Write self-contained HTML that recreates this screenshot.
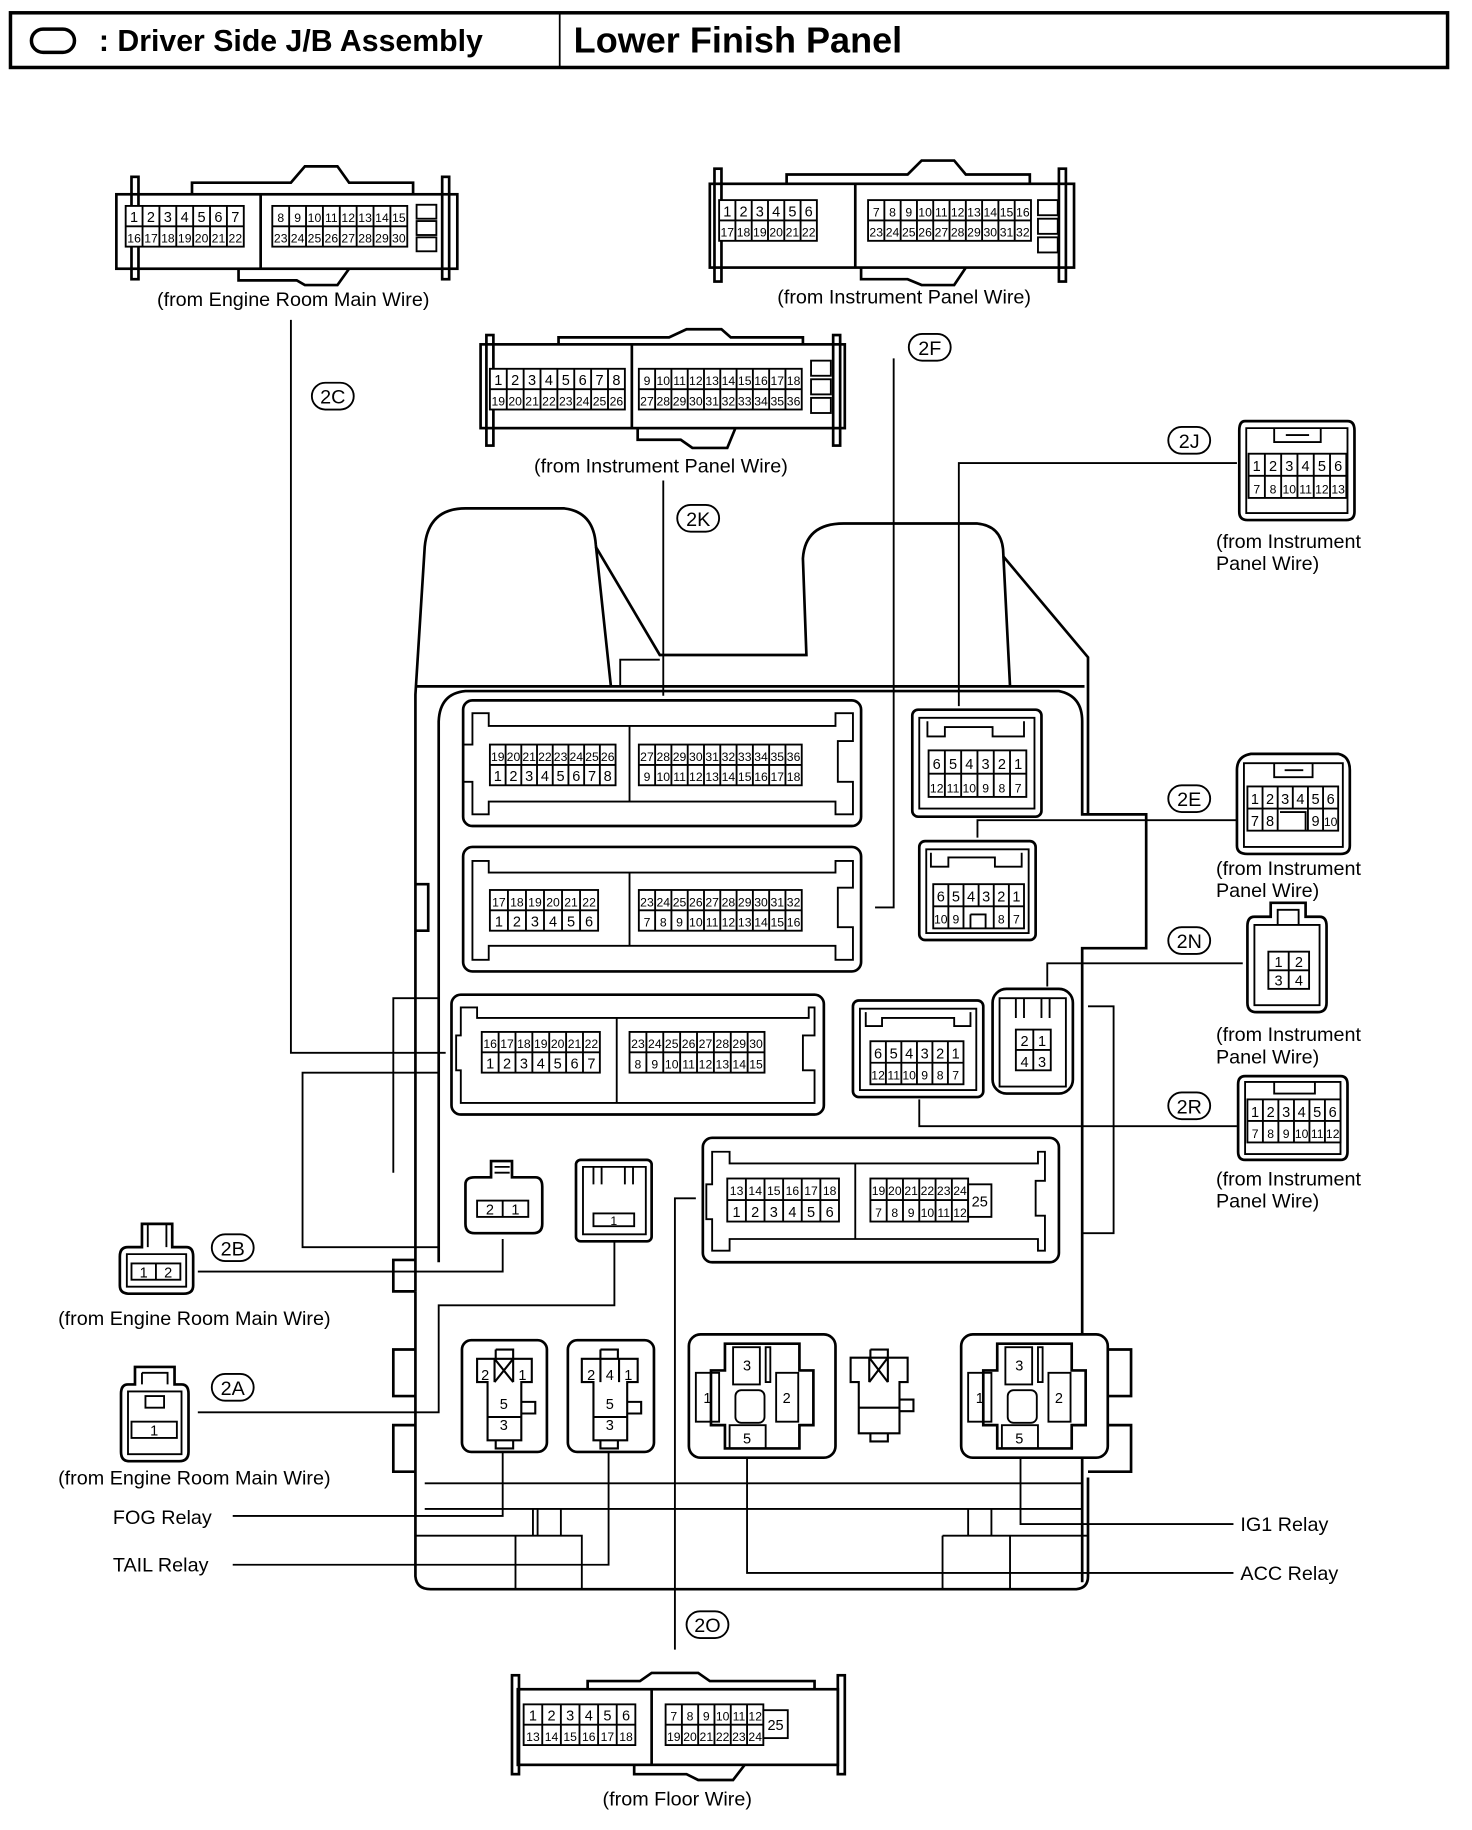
<!DOCTYPE html>
<html><head><meta charset="utf-8"><style>
html,body{margin:0;padding:0;background:#fff}
svg{display:block}
text{font-family:"Liberation Sans",sans-serif;fill:#000}
.p{font-size:12.5px;text-anchor:middle}
.s{font-size:10.5px;text-anchor:middle}
.l{font-size:17px}
.c{font-size:17px;text-anchor:middle}
.g{fill:#fff;stroke:#000;stroke-width:1.6}
.o{fill:none;stroke:#000;stroke-width:2.3}
.t{fill:none;stroke:#000;stroke-width:1.6}
.w{fill:#fff;stroke:#000;stroke-width:2.3}
</style></head><body>
<svg width="1472" height="1830" viewBox="0 0 1265 1573" preserveAspectRatio="none" xmlns="http://www.w3.org/2000/svg">
<!-- header -->
<rect x="9" y="11" width="1235" height="47" fill="none" stroke="#000" stroke-width="3"/>
<line x1="481" y1="11" x2="481" y2="58" stroke="#000" stroke-width="1.5"/>
<rect x="27" y="25" width="37" height="20" rx="10" fill="none" stroke="#000" stroke-width="3"/>
<text x="85" y="44" style="font-size:26px;font-weight:bold">: Driver Side J/B Assembly</text>
<text x="493" y="45" style="font-size:31px;font-weight:bold">Lower Finish Panel</text>

<!-- J/B body -->
<g class="o">
<path d="M357,1110 L357,597 L365,470 Q368,437 400,437 L485,437 Q510,440 512,468 L525,590"/>
<path d="M512,470 L567,563 L693,563 L690,480 Q692,450 725,450 L840,450 Q860,452 862,472 L868,590"/>
<path d="M862,478 L935,565 L935,700"/>
<path d="M357,590 L932,590"/>
<path d="M377,1085 L377,620 Q378,596 400,594 L910,594 Q930,598 930,620 L930,700 L985,700 L985,815 L930,815 L930,1360"/>
<path d="M357,1110 L357,1355 Q358,1366 370,1366 L925,1366 Q935,1365 935,1355 L935,1270"/>
<path d="M357,1083 L338,1083 L338,1110 L357,1110 M357,1160 L338,1160 L338,1200 L357,1200 M357,1225 L338,1225 L338,1265 L357,1265"/>
<path d="M935,1160 L972,1160 L972,1200 L935,1200 M935,1225 L972,1225 L972,1265 L935,1265"/>
<path d="M357,760 L368,760 L368,800 L357,800"/>
</g>
<g class="t">
<path d="M533,590 L533,567 L567,567"/>
<path d="M377,858 L338,858 L338,1008"/>
<path d="M377,922 L260,922 L260,1072 L377,1072"/>
<path d="M935,865 L957,865 L957,1060 L930,1060"/>
<path d="M365,1275 L930,1275 M365,1297 L930,1297"/>
<path d="M357,1320 L500,1320 L500,1366 M443,1320 L443,1366 M462,1297 L462,1320 M482,1297 L482,1320 M458,1297 L458,1320"/>
<path d="M810,1320 L935,1320 M810,1320 L810,1366 M868,1320 L868,1366 M832,1297 L832,1320 M852,1297 L852,1320"/>
</g>

<!-- leader lines -->
<g class="t">
<path d="M250,275 V905 H383"/>
<path d="M768,308 V780 H752"/>
<path d="M570,413 V598"/>
<path d="M1063,398 H824 V607"/>
<path d="M1063,705 H840 V720"/>
<path d="M1068,828 H900 V848"/>
<path d="M1063,968 H790 V945"/>
<path d="M170,1093 H432 V1065"/>
<path d="M170,1214 H377 V1122 H528 V1068"/>
<path d="M580,1418 V1030 H598"/>
<path d="M200,1303 H432 V1248"/>
<path d="M200,1345 H523 V1248"/>
<path d="M1060,1310 H877 V1253"/>
<path d="M1060,1352 H642 V1253"/>
</g>

<!-- circled labels -->
<g>
<rect x="268" y="329" width="36" height="23" rx="11.5" class="w" style="stroke-width:1.6"/><text x="286" y="347" class="c">2C</text>
<rect x="781" y="287" width="36" height="23" rx="11.5" class="w" style="stroke-width:1.6"/><text x="799" y="305" class="c">2F</text>
<rect x="582" y="434" width="36" height="23" rx="11.5" class="w" style="stroke-width:1.6"/><text x="600" y="452" class="c">2K</text>
<rect x="1004" y="367" width="36" height="23" rx="11.5" class="w" style="stroke-width:1.6"/><text x="1022" y="385" class="c">2J</text>
<rect x="1004" y="675" width="36" height="23" rx="11.5" class="w" style="stroke-width:1.6"/><text x="1022" y="693" class="c">2E</text>
<rect x="1004" y="797" width="36" height="23" rx="11.5" class="w" style="stroke-width:1.6"/><text x="1022" y="815" class="c">2N</text>
<rect x="1004" y="939" width="36" height="23" rx="11.5" class="w" style="stroke-width:1.6"/><text x="1022" y="957" class="c">2R</text>
<rect x="182" y="1061" width="36" height="23" rx="11.5" class="w" style="stroke-width:1.6"/><text x="200" y="1079" class="c">2B</text>
<rect x="182" y="1181" width="36" height="23" rx="11.5" class="w" style="stroke-width:1.6"/><text x="200" y="1199" class="c">2A</text>
<rect x="590" y="1385" width="36" height="23" rx="11.5" class="w" style="stroke-width:1.6"/><text x="608" y="1403" class="c">2O</text>
</g>

<!-- ===== 2C external ===== -->
<g class="o">
<rect x="100" y="167" width="293" height="64"/>
<rect x="113" y="152" width="6" height="88"/><rect x="380" y="152" width="6" height="88"/>
<path d="M165,167 V157 H250 L262,143 H290 L300,157 H355 V167"/>
<path d="M205,231 V241 H255 L262,245 H290 L300,231"/>
<path d="M224,167 V231"/>
</g>
<g class="t"><rect x="358" y="176" width="17" height="12"/><rect x="358" y="190" width="17" height="12"/><rect x="358" y="204" width="17" height="12"/></g>
<rect x="108" y="177" width="101.5" height="35" class="g"/>
<path d="M108,194.5 H209.5 M122.5,177V212 M137,177V212 M151.5,177V212 M166,177V212 M180.5,177V212 M195,177V212" class="t"/>
<text y="191" class="p"><tspan x="115.25">1</tspan><tspan x="129.75">2</tspan><tspan x="144.25">3</tspan><tspan x="158.75">4</tspan><tspan x="173.25">5</tspan><tspan x="187.75">6</tspan><tspan x="202.25">7</tspan></text>
<text y="208.5" class="s"><tspan x="115.25">16</tspan><tspan x="129.75">17</tspan><tspan x="144.25">18</tspan><tspan x="158.75">19</tspan><tspan x="173.25">20</tspan><tspan x="187.75">21</tspan><tspan x="202.25">22</tspan></text>
<rect x="234" y="177" width="116" height="35" class="g"/>
<path d="M234,194.5 H350 M248.5,177V212 M263,177V212 M277.5,177V212 M292,177V212 M306.5,177V212 M321,177V212 M335.5,177V212" class="t"/>
<text y="191" class="s"><tspan x="241.25">8</tspan><tspan x="255.75">9</tspan><tspan x="270.25">10</tspan><tspan x="284.75">11</tspan><tspan x="299.25">12</tspan><tspan x="313.75">13</tspan><tspan x="328.25">14</tspan><tspan x="342.75">15</tspan></text>
<text y="208.5" class="s"><tspan x="241.25">23</tspan><tspan x="255.75">24</tspan><tspan x="270.25">25</tspan><tspan x="284.75">26</tspan><tspan x="299.25">27</tspan><tspan x="313.75">28</tspan><tspan x="328.25">29</tspan><tspan x="342.75">30</tspan></text>
<text x="252" y="263" class="c">(from Engine Room Main Wire)</text>

<!-- ===== 2F external ===== -->
<g class="o">
<rect x="610" y="158" width="313" height="72"/>
<rect x="614" y="145" width="6" height="97"/><rect x="910" y="145" width="6" height="97"/>
<path d="M676,158 V150 H780 L792,138 H820 L830,150 H885 V158"/>
<path d="M740,230 V240 H780 L792,245 H820 L830,230"/>
<path d="M735,158 V230"/>
</g>
<g class="t"><rect x="892" y="172" width="17" height="13"/><rect x="892" y="188" width="17" height="13"/><rect x="892" y="204" width="17" height="13"/></g>
<rect x="618" y="172" width="84" height="35" class="g"/>
<path d="M618,189.5 H702 M632,172V207 M646,172V207 M660,172V207 M674,172V207 M688,172V207" class="t"/>
<text y="186" class="p"><tspan x="625">1</tspan><tspan x="639">2</tspan><tspan x="653">3</tspan><tspan x="667">4</tspan><tspan x="681">5</tspan><tspan x="695">6</tspan></text>
<text y="203.5" class="s"><tspan x="625">17</tspan><tspan x="639">18</tspan><tspan x="653">19</tspan><tspan x="667">20</tspan><tspan x="681">21</tspan><tspan x="695">22</tspan></text>
<rect x="746" y="172" width="140" height="35" class="g"/>
<path d="M746,189.5 H886 M760,172V207 M774,172V207 M788,172V207 M802,172V207 M816,172V207 M830,172V207 M844,172V207 M858,172V207 M872,172V207" class="t"/>
<text y="186" class="s"><tspan x="753">7</tspan><tspan x="767">8</tspan><tspan x="781">9</tspan><tspan x="795">10</tspan><tspan x="809">11</tspan><tspan x="823">12</tspan><tspan x="837">13</tspan><tspan x="851">14</tspan><tspan x="865">15</tspan><tspan x="879">16</tspan></text>
<text y="203.5" class="s"><tspan x="753">23</tspan><tspan x="767">24</tspan><tspan x="781">25</tspan><tspan x="795">26</tspan><tspan x="809">27</tspan><tspan x="823">28</tspan><tspan x="837">29</tspan><tspan x="851">30</tspan><tspan x="865">31</tspan><tspan x="879">32</tspan></text>
<text x="777" y="261" class="c">(from Instrument Panel Wire)</text>

<!-- ===== 2K external ===== -->
<g class="o">
<rect x="413" y="296" width="313" height="72"/>
<rect x="418" y="288" width="6" height="95"/><rect x="716" y="288" width="6" height="95"/>
<path d="M480,296 V290 H575 L590,283 H620 L628,290 H690 V296"/>
<path d="M548,368 V378 H585 L595,385 H625 L632,368"/>
<path d="M543,296 V368"/>
</g>
<g class="t"><rect x="697" y="310" width="17" height="13"/><rect x="697" y="326" width="17" height="13"/><rect x="697" y="342" width="17" height="13"/></g>
<rect x="421" y="317" width="116" height="35" class="g"/>
<path d="M421,334.5 H537 M435.5,317V352 M450,317V352 M464.5,317V352 M479,317V352 M493.5,317V352 M508,317V352 M522.5,317V352" class="t"/>
<text y="331" class="p"><tspan x="428.25">1</tspan><tspan x="442.75">2</tspan><tspan x="457.25">3</tspan><tspan x="471.75">4</tspan><tspan x="486.25">5</tspan><tspan x="500.75">6</tspan><tspan x="515.25">7</tspan><tspan x="529.75">8</tspan></text>
<text y="348.5" class="s"><tspan x="428.25">19</tspan><tspan x="442.75">20</tspan><tspan x="457.25">21</tspan><tspan x="471.75">22</tspan><tspan x="486.25">23</tspan><tspan x="500.75">24</tspan><tspan x="515.25">25</tspan><tspan x="529.75">26</tspan></text>
<rect x="549" y="317" width="140" height="35" class="g"/>
<path d="M549,334.5 H689 M563,317V352 M577,317V352 M591,317V352 M605,317V352 M619,317V352 M633,317V352 M647,317V352 M661,317V352 M675,317V352" class="t"/>
<text y="331" class="s"><tspan x="556">9</tspan><tspan x="570">10</tspan><tspan x="584">11</tspan><tspan x="598">12</tspan><tspan x="612">13</tspan><tspan x="626">14</tspan><tspan x="640">15</tspan><tspan x="654">16</tspan><tspan x="668">17</tspan><tspan x="682">18</tspan></text>
<text y="348.5" class="s"><tspan x="556">27</tspan><tspan x="570">28</tspan><tspan x="584">29</tspan><tspan x="598">30</tspan><tspan x="612">31</tspan><tspan x="626">32</tspan><tspan x="640">33</tspan><tspan x="654">34</tspan><tspan x="668">35</tspan><tspan x="682">36</tspan></text>
<text x="568" y="406" class="c">(from Instrument Panel Wire)</text>

<!-- ===== K1 (2K in J/B) ===== -->
<rect x="398" y="602" width="342" height="108" rx="8" class="w"/>
<path d="M406,613 H420 V624 H718 V613 H733 V637 H720 V672 H733 V700 H718 V689 H420 V700 H406 V672 H398 V640 H406 Z M541,624 V689" class="t"/>
<rect x="421" y="640" width="108" height="35" class="g"/>
<path d="M421,657.5 H529 M434.5,640V675 M448,640V675 M461.5,640V675 M475,640V675 M488.5,640V675 M502,640V675 M515.5,640V675" class="t"/>
<text y="654" class="s"><tspan x="427.75">19</tspan><tspan x="441.25">20</tspan><tspan x="454.75">21</tspan><tspan x="468.25">22</tspan><tspan x="481.75">23</tspan><tspan x="495.25">24</tspan><tspan x="508.75">25</tspan><tspan x="522.25">26</tspan></text>
<text y="671.5" class="p"><tspan x="427.75">1</tspan><tspan x="441.25">2</tspan><tspan x="454.75">3</tspan><tspan x="468.25">4</tspan><tspan x="481.75">5</tspan><tspan x="495.25">6</tspan><tspan x="508.75">7</tspan><tspan x="522.25">8</tspan></text>
<rect x="549" y="640" width="140" height="35" class="g"/>
<path d="M549,657.5 H689 M563,640V675 M577,640V675 M591,640V675 M605,640V675 M619,640V675 M633,640V675 M647,640V675 M661,640V675 M675,640V675" class="t"/>
<text y="654" class="s"><tspan x="556">27</tspan><tspan x="570">28</tspan><tspan x="584">29</tspan><tspan x="598">30</tspan><tspan x="612">31</tspan><tspan x="626">32</tspan><tspan x="640">33</tspan><tspan x="654">34</tspan><tspan x="668">35</tspan><tspan x="682">36</tspan></text>
<text y="671.5" class="s"><tspan x="556">9</tspan><tspan x="570">10</tspan><tspan x="584">11</tspan><tspan x="598">12</tspan><tspan x="612">13</tspan><tspan x="626">14</tspan><tspan x="640">15</tspan><tspan x="654">16</tspan><tspan x="668">17</tspan><tspan x="682">18</tspan></text>

<!-- ===== K2 (2F in J/B) ===== -->
<rect x="398" y="728" width="342" height="107" rx="8" class="w"/>
<path d="M406,740 H420 V750 H718 V740 H733 V763 H720 V797 H733 V825 H718 V813 H420 V825 H406 Z M541,750 V813" class="t"/>
<rect x="421" y="765" width="93" height="35" class="g"/>
<path d="M421,782.5 H514 M436.5,765V800 M452,765V800 M467.5,765V800 M483,765V800 M498.5,765V800" class="t"/>
<text y="779" class="s"><tspan x="428.75">17</tspan><tspan x="444.25">18</tspan><tspan x="459.75">19</tspan><tspan x="475.25">20</tspan><tspan x="490.75">21</tspan><tspan x="506.25">22</tspan></text>
<text y="796.5" class="p"><tspan x="428.75">1</tspan><tspan x="444.25">2</tspan><tspan x="459.75">3</tspan><tspan x="475.25">4</tspan><tspan x="490.75">5</tspan><tspan x="506.25">6</tspan></text>
<rect x="549" y="765" width="140" height="35" class="g"/>
<path d="M549,782.5 H689 M563,765V800 M577,765V800 M591,765V800 M605,765V800 M619,765V800 M633,765V800 M647,765V800 M661,765V800 M675,765V800" class="t"/>
<text y="779" class="s"><tspan x="556">23</tspan><tspan x="570">24</tspan><tspan x="584">25</tspan><tspan x="598">26</tspan><tspan x="612">27</tspan><tspan x="626">28</tspan><tspan x="640">29</tspan><tspan x="654">30</tspan><tspan x="668">31</tspan><tspan x="682">32</tspan></text>
<text y="796.5" class="s"><tspan x="556">7</tspan><tspan x="570">8</tspan><tspan x="584">9</tspan><tspan x="598">10</tspan><tspan x="612">11</tspan><tspan x="626">12</tspan><tspan x="640">13</tspan><tspan x="654">14</tspan><tspan x="668">15</tspan><tspan x="682">16</tspan></text>

<!-- ===== K3 (2C in J/B) ===== -->
<rect x="388" y="855" width="320" height="103" rx="8" class="w"/>
<path d="M396,866 H410 V875 H695 V866 H700 V890 H690 V920 H700 V948 H396 V920 H392 V890 H396 Z M530,875 V948" class="t"/>
<rect x="414" y="887" width="101.5" height="35" class="g"/>
<path d="M414,904.5 H515.5 M428.5,887V922 M443,887V922 M457.5,887V922 M472,887V922 M486.5,887V922 M501,887V922" class="t"/>
<text y="901" class="s"><tspan x="421.25">16</tspan><tspan x="435.75">17</tspan><tspan x="450.25">18</tspan><tspan x="464.75">19</tspan><tspan x="479.25">20</tspan><tspan x="493.75">21</tspan><tspan x="508.25">22</tspan></text>
<text y="918.5" class="p"><tspan x="421.25">1</tspan><tspan x="435.75">2</tspan><tspan x="450.25">3</tspan><tspan x="464.75">4</tspan><tspan x="479.25">5</tspan><tspan x="493.75">6</tspan><tspan x="508.25">7</tspan></text>
<rect x="541" y="887" width="116" height="35" class="g"/>
<path d="M541,904.5 H657 M555.5,887V922 M570,887V922 M584.5,887V922 M599,887V922 M613.5,887V922 M628,887V922 M642.5,887V922" class="t"/>
<text y="901" class="s"><tspan x="548.25">23</tspan><tspan x="562.75">24</tspan><tspan x="577.25">25</tspan><tspan x="591.75">26</tspan><tspan x="606.25">27</tspan><tspan x="620.75">28</tspan><tspan x="635.25">29</tspan><tspan x="649.75">30</tspan></text>
<text y="918.5" class="s"><tspan x="548.25">8</tspan><tspan x="562.75">9</tspan><tspan x="577.25">10</tspan><tspan x="591.75">11</tspan><tspan x="606.25">12</tspan><tspan x="620.75">13</tspan><tspan x="635.25">14</tspan><tspan x="649.75">15</tspan></text>

<!-- ===== K4 (2J) ===== -->
<rect x="784" y="610" width="111" height="92" rx="5" class="w"/>
<path d="M790,617 H889 V695 H790 Z M797,620 V633 H812 V625 H853 V633 H880 V620" class="t"/>
<rect x="798" y="645" width="84" height="40" class="g"/>
<path d="M798,665 H882 M812,645V685 M826,645V685 M840,645V685 M854,645V685 M868,645V685" class="t"/>
<text y="661" class="p"><tspan x="805">6</tspan><tspan x="819">5</tspan><tspan x="833">4</tspan><tspan x="847">3</tspan><tspan x="861">2</tspan><tspan x="875">1</tspan></text>
<text y="681" class="s"><tspan x="805">12</tspan><tspan x="819">11</tspan><tspan x="833">10</tspan><tspan x="847">9</tspan><tspan x="861">8</tspan><tspan x="875">7</tspan></text>

<!-- ===== K5 (2E) ===== -->
<rect x="790" y="723" width="100" height="85" rx="5" class="w"/>
<path d="M796,730 H884 V802 H796 Z M800,733 V745 H815 V737 H855 V745 H878 V733" class="t"/>
<rect x="802" y="760" width="78" height="38" class="g"/>
<path d="M802,779 H880 M815,760V798 M828,760V798 M841,760V779 M854,760V798 M867,760V798 M834,786 H847 V798 M834,786 V798" class="t"/>
<text y="775" class="p"><tspan x="808.5">6</tspan><tspan x="821.5">5</tspan><tspan x="834.5">4</tspan><tspan x="847.5">3</tspan><tspan x="860.5">2</tspan><tspan x="873.5">1</tspan></text>
<text y="794" class="s"><tspan x="808.5">10</tspan><tspan x="821.5">9</tspan><tspan x="860.5">8</tspan><tspan x="873.5">7</tspan></text>

<!-- ===== K6 (2R) ===== -->
<rect x="733" y="860" width="112" height="83" rx="5" class="w"/>
<path d="M739,867 H839 V937 H739 Z M744,870 V882 H758 V875 H820 V882 H834 V870" class="t"/>
<rect x="748" y="895" width="80" height="37" class="g"/>
<path d="M748,913.5 H828 M761.3,895V932 M774.6,895V932 M788,895V932 M801.3,895V932 M814.6,895V932" class="t"/>
<text y="910" class="p"><tspan x="754.6">6</tspan><tspan x="768">5</tspan><tspan x="781.3">4</tspan><tspan x="794.6">3</tspan><tspan x="808">2</tspan><tspan x="821.3">1</tspan></text>
<text y="928" class="s"><tspan x="754.6">12</tspan><tspan x="768">11</tspan><tspan x="781.3">10</tspan><tspan x="794.6">9</tspan><tspan x="808">8</tspan><tspan x="821.3">7</tspan></text>

<!-- ===== K7 (2N) ===== -->
<rect x="853" y="850" width="69" height="90" rx="12" class="w"/>
<path d="M859,858 H916 V934 H859 Z M873,858 V875 M880,858 V875 M895,858 V875 M902,858 V875" class="t"/>
<rect x="873" y="885" width="30" height="35" class="g"/>
<path d="M873,902.5 H903 M888,885V920" class="t"/>
<text y="899" class="p"><tspan x="880.5">2</tspan><tspan x="895.5">1</tspan></text>
<text y="917" class="p"><tspan x="880.5">4</tspan><tspan x="895.5">3</tspan></text>

<!-- ===== K8 (2B in J/B) ===== -->
<path d="M400,1018 Q400,1012 408,1012 H422 V998 H440 V1012 H460 Q466,1012 466,1020 V1052 Q466,1060 458,1060 H408 Q400,1060 400,1052 Z" class="w"/>
<path d="M425,1003 H438 M425,1008 H438" class="t"/>
<rect x="410" y="1032" width="44" height="14" class="g"/>
<path d="M432,1032V1046" class="t"/>
<text y="1044" class="p"><tspan x="421">2</tspan><tspan x="443">1</tspan></text>

<!-- ===== K9 (2A in J/B) ===== -->
<rect x="495" y="997" width="65" height="70" rx="4" class="w"/>
<path d="M501,1003 H555 V1061 H501 Z M510,1003 V1018 M517,1003 V1018 M537,1003 V1018 M544,1003 V1018" class="t"/>
<rect x="510" y="1043" width="35" height="11" class="g"/>
<text x="527.5" y="1053" class="s">1</text>

<!-- ===== K10 (2O in J/B) ===== -->
<rect x="604" y="978" width="306" height="107" rx="8" class="w"/>
<path d="M612,990 H627 V1000 H892 V990 H898 V1015 H890 V1045 H898 V1075 H892 V1065 H627 V1075 H612 V1048 H607 V1018 H612 Z M735,1000 V1065" class="t"/>
<rect x="625" y="1013" width="96" height="37" class="g"/>
<path d="M625,1031.5 H721 M641,1013V1050 M657,1013V1050 M673,1013V1050 M689,1013V1050 M705,1013V1050" class="t"/>
<text y="1027" class="s"><tspan x="633">13</tspan><tspan x="649">14</tspan><tspan x="665">15</tspan><tspan x="681">16</tspan><tspan x="697">17</tspan><tspan x="713">18</tspan></text>
<text y="1046" class="p"><tspan x="633">1</tspan><tspan x="649">2</tspan><tspan x="665">3</tspan><tspan x="681">4</tspan><tspan x="697">5</tspan><tspan x="713">6</tspan></text>
<rect x="748" y="1013" width="84" height="37" class="g"/>
<path d="M748,1031.5 H832 M762,1013V1050 M776,1013V1050 M790,1013V1050 M804,1013V1050 M818,1013V1050" class="t"/>
<rect x="832" y="1018" width="20" height="28" class="g"/>
<text x="842" y="1037" class="p">25</text>
<text y="1027" class="s"><tspan x="755">19</tspan><tspan x="769">20</tspan><tspan x="783">21</tspan><tspan x="797">22</tspan><tspan x="811">23</tspan><tspan x="825">24</tspan></text>
<text y="1046" class="s"><tspan x="755">7</tspan><tspan x="769">8</tspan><tspan x="783">9</tspan><tspan x="797">10</tspan><tspan x="811">11</tspan><tspan x="825">12</tspan></text>

<!-- ===== Relays ===== -->
<rect x="397" y="1152" width="73" height="96" rx="8" class="w"/>
<path d="M410,1168 H457 V1188 H448 V1238 H419 V1188 H410 Z M419,1218 H448 M448,1205 H460 V1215 H448 M426,1160 H441 V1168 M426,1160 V1168 M426,1238 V1245 H441 V1238 M425,1168 L441,1188 M441,1168 L425,1188 M425,1168 V1188 M441,1168 V1188" class="o" style="stroke-width:1.8"/>
<text y="1186" class="p"><tspan x="417">2</tspan><tspan x="449">1</tspan></text>
<text y="1211" class="p"><tspan x="433">5</tspan></text><text y="1229" class="p"><tspan x="433">3</tspan></text>
<rect x="488" y="1152" width="74" height="96" rx="8" class="w"/>
<path d="M500,1168 H548 V1188 H539 V1238 H510 V1188 H500 Z M510,1218 H539 M539,1205 H551 V1215 H539 M516,1160 H531 V1168 M516,1160 V1168 M516,1238 V1245 H531 V1238 M516,1168 V1188 M532,1168 V1188" class="o" style="stroke-width:1.8"/>
<text y="1186" class="p"><tspan x="508">2</tspan><tspan x="524">4</tspan><tspan x="540">1</tspan></text>
<text y="1211" class="p"><tspan x="524">5</tspan></text><text y="1229" class="p"><tspan x="524">3</tspan></text>
<rect x="592" y="1147" width="126" height="106" rx="10" class="w"/>
<path d="M623,1155 H687 V1178 H699 V1225 H687 V1245 H623 V1225 H611 V1178 H623 Z" class="o"/>
<path d="M630,1158 H653 V1190 H630 Z M598,1180 H618 V1222 H598 Z M667,1180 H686 V1222 H667 Z M627,1225 H658 V1245 H627 Z M658,1158 H662 V1188 H658 Z" class="o" style="stroke-width:1.6"/>
<rect x="632" y="1195" width="25" height="28" rx="5" class="t"/>
<text y="1178" class="p"><tspan x="642">3</tspan></text>
<text y="1206" class="p"><tspan x="608">1</tspan><tspan x="676">2</tspan></text>
<text y="1241" class="p"><tspan x="642">5</tspan></text>
<path d="M731,1167 H780 V1188 H773 V1232 H738 V1188 H731 Z M738,1210 H773 M773,1203 H785 V1213 H773 M748,1160 H763 V1167 M748,1160 V1167 M748,1232 V1239 H763 V1232 M747,1167 L763,1188 M763,1167 L747,1188 M747,1167 V1188 M763,1167 V1188" class="o" style="stroke-width:1.8"/>
<rect x="826" y="1147" width="126" height="106" rx="10" class="w"/>
<path d="M857,1155 H921 V1178 H933 V1225 H921 V1245 H857 V1225 H845 V1178 H857 Z" class="o"/>
<path d="M864,1158 H887 V1190 H864 Z M832,1180 H852 V1222 H832 Z M901,1180 H920 V1222 H901 Z M861,1225 H892 V1245 H861 Z M892,1158 H896 V1188 H892 Z" class="o" style="stroke-width:1.6"/>
<rect x="866" y="1195" width="25" height="28" rx="5" class="t"/>
<text y="1178" class="p"><tspan x="876">3</tspan></text>
<text y="1206" class="p"><tspan x="842">1</tspan><tspan x="910">2</tspan></text>
<text y="1241" class="p"><tspan x="876">5</tspan></text>

<text x="97" y="1310" class="l">FOG Relay</text>
<text x="97" y="1351" class="l">TAIL Relay</text>
<text x="1066" y="1316" class="l">IG1 Relay</text>
<text x="1066" y="1358" class="l">ACC Relay</text>

<!-- ===== Right externals ===== -->
<path d="M1070,362 H1158 Q1164,362 1164,370 V440 Q1164,447 1157,447 H1072 Q1065,447 1065,440 V370 Q1065,362 1070,362 Z" class="w"/>
<path d="M1071,368 H1158 V441 H1071 Z M1095,368 V380 H1135 V368 M1105,374 H1125" class="t"/>
<rect x="1073" y="390" width="84" height="38" class="g"/>
<path d="M1073,409 H1157 M1087,390V428 M1101,390V428 M1115,390V428 M1129,390V428 M1143,390V428" class="t"/>
<text y="405" class="p"><tspan x="1080">1</tspan><tspan x="1094">2</tspan><tspan x="1108">3</tspan><tspan x="1122">4</tspan><tspan x="1136">5</tspan><tspan x="1150">6</tspan></text>
<text y="424" class="s"><tspan x="1080">7</tspan><tspan x="1094">8</tspan><tspan x="1108">10</tspan><tspan x="1122">11</tspan><tspan x="1136">12</tspan><tspan x="1150">13</tspan></text>
<text x="1045" y="471" class="l">(from Instrument</text><text x="1045" y="490" class="l">Panel Wire)</text>
<path d="M1075,648 H1150 Q1160,650 1160,662 V727 Q1160,734 1152,734 H1072 Q1063,734 1063,727 V662 Q1063,650 1075,648 Z" class="w"/>
<path d="M1069,656 H1154 V728 H1069 Z M1095,656 V668 H1128 V656 M1104,662 H1120" class="t"/>
<rect x="1072" y="676" width="78" height="38" class="g"/>
<path d="M1072,695 H1150 M1085,676V714 M1098,676V714 M1111,676V695 M1124,676V714 M1137,676V714 M1100,698 H1122 V714" class="t"/>
<text y="691" class="p"><tspan x="1078.5">1</tspan><tspan x="1091.5">2</tspan><tspan x="1104.5">3</tspan><tspan x="1117.5">4</tspan><tspan x="1130.5">5</tspan><tspan x="1143.5">6</tspan></text>
<text y="710" class="p"><tspan x="1078.5">7</tspan><tspan x="1091.5">8</tspan><tspan x="1130.5">9</tspan></text><text x="1143.5" y="710" class="s">10</text>
<text x="1045" y="752" class="l">(from Instrument</text><text x="1045" y="771" class="l">Panel Wire)</text>
<path d="M1078,788 H1092 V776 H1122 V788 H1134 Q1140,788 1140,796 V862 Q1140,870 1132,870 H1080 Q1072,870 1072,862 V796 Q1072,788 1078,788 Z" class="w"/>
<path d="M1098,782 H1116 V795 H1098 Z M1078,795 H1134 V864 H1078 Z" class="t"/>
<rect x="1090" y="818" width="35" height="32" class="g"/>
<path d="M1090,834 H1125 M1107.5,818V850" class="t"/>
<text y="831" class="p"><tspan x="1098.75">1</tspan><tspan x="1116.25">2</tspan></text>
<text y="847" class="p"><tspan x="1098.75">3</tspan><tspan x="1116.25">4</tspan></text>
<text x="1045" y="895" class="l">(from Instrument</text><text x="1045" y="914" class="l">Panel Wire)</text>
<path d="M1070,925 H1152 Q1158,925 1158,932 V990 Q1158,997 1152,997 H1070 Q1064,997 1064,990 V932 Q1064,925 1070,925 Z" class="w"/>
<path d="M1070,930 H1152 V992 H1070 Z M1095,930 V940 H1130 V930" class="t"/>
<rect x="1072" y="945" width="80" height="37" class="g"/>
<path d="M1072,963.5 H1152 M1085.3,945V982 M1098.6,945V982 M1112,945V982 M1125.3,945V982 M1138.6,945V982" class="t"/>
<text y="960" class="p"><tspan x="1078.6">1</tspan><tspan x="1092">2</tspan><tspan x="1105.3">3</tspan><tspan x="1118.6">4</tspan><tspan x="1132">5</tspan><tspan x="1145.3">6</tspan></text>
<text y="978" class="s"><tspan x="1078.6">7</tspan><tspan x="1092">8</tspan><tspan x="1105.3">9</tspan><tspan x="1118.6">10</tspan><tspan x="1132">11</tspan><tspan x="1145.3">12</tspan></text>
<text x="1045" y="1019" class="l">(from Instrument</text><text x="1045" y="1038" class="l">Panel Wire)</text>

<!-- ===== Left externals ===== -->
<path d="M110,1072 H122 V1052 H148 V1072 H160 Q166,1072 166,1080 V1105 Q166,1112 158,1112 H111 Q103,1112 103,1105 V1080 Q103,1072 110,1072 Z" class="w"/>
<path d="M127,1052 V1072 M143,1052 V1072 M109,1078 H160 V1106 H109 Z" class="t"/>
<rect x="113" y="1086" width="42" height="14" class="g"/>
<path d="M134,1086V1100" class="t"/>
<text y="1098" class="p"><tspan x="123.5">1</tspan><tspan x="144.5">2</tspan></text>
<text x="167" y="1139" class="c">(from Engine Room Main Wire)</text>
<path d="M110,1190 H116 V1175 H150 V1190 H156 Q162,1190 162,1198 V1248 Q162,1256 154,1256 H111 Q104,1256 104,1248 V1198 Q104,1190 110,1190 Z" class="w"/>
<path d="M122,1180 H144 V1190 M122,1180 V1190 M110,1196 H156 V1250 H110 Z M125,1200 H141 V1210 H125 Z" class="t"/>
<rect x="113" y="1222" width="39" height="14" class="g"/>
<text x="132.5" y="1234" class="p">1</text>
<text x="167" y="1276" class="c">(from Engine Room Main Wire)</text>

<!-- ===== 2O bottom external ===== -->
<g class="o">
<rect x="445" y="1452" width="275" height="65"/>
<rect x="440" y="1440" width="6" height="85"/><rect x="720" y="1440" width="6" height="85"/>
<path d="M505,1452 V1445 H550 L560,1438 H600 L610,1445 H700 V1452"/>
<path d="M545,1517 V1525 H590 L600,1530 H630 L640,1517"/>
<path d="M560,1452 V1517"/>
</g>
<rect x="450" y="1465" width="96" height="35" class="g"/>
<path d="M450,1482.5 H546 M466,1465V1500 M482,1465V1500 M498,1465V1500 M514,1465V1500 M530,1465V1500" class="t"/>
<text y="1479" class="p"><tspan x="458">1</tspan><tspan x="474">2</tspan><tspan x="490">3</tspan><tspan x="506">4</tspan><tspan x="522">5</tspan><tspan x="538">6</tspan></text>
<text y="1496.5" class="s"><tspan x="458">13</tspan><tspan x="474">14</tspan><tspan x="490">15</tspan><tspan x="506">16</tspan><tspan x="522">17</tspan><tspan x="538">18</tspan></text>
<rect x="572" y="1465" width="84" height="35" class="g"/>
<path d="M572,1482.5 H656 M586,1465V1500 M600,1465V1500 M614,1465V1500 M628,1465V1500 M642,1465V1500" class="t"/>
<rect x="656" y="1470" width="21" height="24" class="g"/>
<text x="666.5" y="1487" class="p">25</text>
<text y="1479" class="s"><tspan x="579">7</tspan><tspan x="593">8</tspan><tspan x="607">9</tspan><tspan x="621">10</tspan><tspan x="635">11</tspan><tspan x="649">12</tspan></text>
<text y="1496.5" class="s"><tspan x="579">19</tspan><tspan x="593">20</tspan><tspan x="607">21</tspan><tspan x="621">22</tspan><tspan x="635">23</tspan><tspan x="649">24</tspan></text>
<text x="582" y="1552" class="c">(from Floor Wire)</text>
</svg>
</body></html>
